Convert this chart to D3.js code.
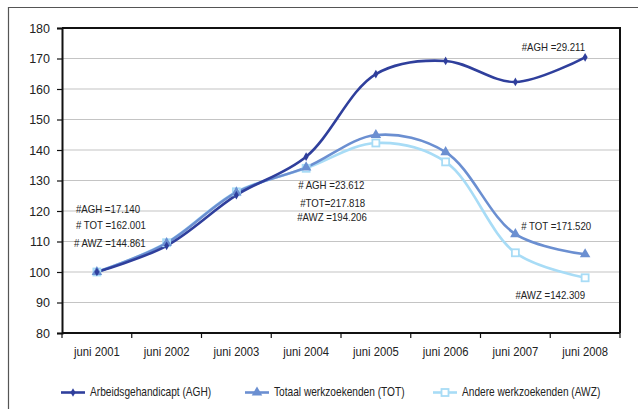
<!DOCTYPE html>
<html>
<head>
<meta charset="utf-8">
<script src="https://cdn.jsdelivr.net/npm/d3@7"></script>
<style>
body { margin: 0; background: #fff; }
svg { font-family: "Liberation Sans", Arial, sans-serif; }
</style>
</head>
<body>
<svg class="chart"></svg>
<script>
let width = 638,
  height = 409;

// data
let years = ["juni 2001", "juni 2002", "juni 2003", "juni 2004", "juni 2005", "juni 2006", "juni 2007", "juni 2008"];
let agh = [100, 108.6, 125.2, 137.8, 164.9, 169.2, 162.3, 170.4];
let tot = [100, 109.5, 126.1, 134.3, 144.9, 139.3, 112.4, 105.8];
let awz = [100, 109.6, 126.3, 134.0, 142.3, 136.1, 106.3, 98.1];
let yTicks = [80, 90, 100, 110, 120, 130, 140, 150, 160, 170, 180];
let seriesNames = ["Arbeidsgehandicapt (AGH)", "Totaal werkzoekenden (TOT)", "Andere werkzoekenden (AWZ)"];
let notes = [
  { text: "#AGH =29.211", year: "juni 2008", value: 170.4, dx: 0, dy: -6, anchor: "end" },
  { text: "#AGH =17.140", year: "juni 2001", value: 100, dx: -21, dy: -59, anchor: "start" },
  { text: "# TOT =162.001", year: "juni 2001", value: 100, dx: -21, dy: -43, anchor: "start" },
  { text: "# AWZ =144.861", year: "juni 2001", value: 100, dx: -23, dy: -25, anchor: "start" },
  { text: "# AGH =23.612", year: "juni 2004", value: 134.3, dx: -8, dy: 22, anchor: "start" },
  { text: "#TOT=217.818", year: "juni 2004", value: 134.3, dx: -6, dy: 40, anchor: "start" },
  { text: "#AWZ =194.206", year: "juni 2004", value: 134.3, dx: -9, dy: 54, anchor: "start" },
  { text: "# TOT =171.520", year: "juni 2008", value: 105.8, dx: -64, dy: -24, anchor: "start" },
  { text: "#AWZ =142.309", year: "juni 2008", value: 98.1, dx: 0, dy: 21, anchor: "end" }
];

let margin = { left: 62, top: 28, right: 18, bottom: 76 };
let svg = d3.select(".chart").attr("width", width).attr("height", height);

// no narrow font installed, so squeeze the text a bit
function condense(sel, k) {
  sel.each(function () {
    let w = this.getComputedTextLength();
    d3.select(this).attr("textLength", w * k).attr("lengthAdjust", "spacingAndGlyphs");
  });
}

// outer frame
svg.append("path")
  .attr("d", "M8.5," + height + "V7.5H" + width)
  .attr("fill", "none")
  .attr("stroke", "#555")
  .attr("stroke-width", 1.2);

let x = d3.scaleBand().domain(years).range([margin.left, width - margin.right]);
let y = d3.scaleLinear().domain([80, 180]).range([height - margin.bottom, margin.top]);
let cx = (d) => x(d) + x.bandwidth() / 2;

// grid
svg.append("g")
  .selectAll("line")
  .data(yTicks.slice(1, -1))
  .enter()
  .append("line")
  .attr("x1", margin.left)
  .attr("x2", width - margin.right)
  .attr("y1", (d) => y(d))
  .attr("y2", (d) => y(d))
  .attr("stroke", "#c4c4c4")
  .attr("stroke-width", 1.2);

// plot border (top & right)
svg.append("path")
  .attr("d", "M" + margin.left + "," + y(180) + "H" + (width - margin.right) + "V" + y(80))
  .attr("fill", "none")
  .attr("stroke", "#111")
  .attr("stroke-width", 2);

// y axis
let yAxis = svg.append("g")
  .attr("transform", "translate(" + margin.left + ",0)")
  .call(d3.axisLeft(y).tickValues(yTicks).tickSize(5).tickPadding(7));
yAxis.select(".domain").attr("stroke", "#111").attr("stroke-width", 2);
yAxis.selectAll(".tick line").attr("stroke", "#111").attr("stroke-width", 1.2);
yAxis.selectAll(".tick text")
  .attr("font-family", "Liberation Sans, sans-serif")
  .attr("font-size", 12.5)
  .attr("fill", "#222");

// x axis (ticks between categories)
let xAxis = svg.append("g")
  .attr("transform", "translate(0," + y(80) + ")");
xAxis.append("line")
  .attr("x1", margin.left)
  .attr("x2", width - margin.right)
  .attr("stroke", "#111")
  .attr("stroke-width", 2);
xAxis.selectAll(".tk")
  .data(years.concat(["end"]))
  .enter()
  .append("line")
  .attr("x1", (d, i) => margin.left + i * x.bandwidth())
  .attr("x2", (d, i) => margin.left + i * x.bandwidth())
  .attr("y2", 5)
  .attr("stroke", "#111")
  .attr("stroke-width", 1.2);
xAxis.selectAll("text")
  .data(years)
  .enter()
  .append("text")
  .attr("x", (d) => cx(d))
  .attr("y", 23)
  .attr("text-anchor", "middle")
  .attr("font-size", 12.5)
  .attr("fill", "#222")
  .text((d) => d)
  .call(condense, 0.9);

// annotations
svg.append("g")
  .selectAll("text")
  .data(notes)
  .enter()
  .append("text")
  .attr("x", (d) => cx(d.year) + d.dx)
  .attr("y", (d) => y(d.value) + d.dy)
  .attr("text-anchor", (d) => d.anchor)
  .attr("font-size", 11.5)
  .attr("fill", "#222")
  .text((d) => d.text)
  .call(condense, 0.84);

// series
let series = [
  { name: seriesNames[0], values: agh, color: "#2f3f9c", marker: "diamond" },
  { name: seriesNames[1], values: tot, color: "#6b8fd1", marker: "triangle" },
  { name: seriesNames[2], values: awz, color: "#a8dcf6", marker: "square" }
];

let line = d3.line()
  .x((d, i) => cx(years[i]))
  .y((d) => y(d))
  .curve(d3.curveCatmullRom.alpha(0.5));

function drawMarker(g, type, color, px, py) {
  if (type == "diamond") {
    g.append("path")
      .attr("d", d3.symbol(d3.symbolDiamond, 22)())
      .attr("transform", "translate(" + px + "," + py + ")")
      .attr("fill", color);
  } else if (type == "triangle") {
    g.append("path")
      .attr("d", d3.symbol(d3.symbolTriangle, 48)())
      .attr("transform", "translate(" + px + "," + py + ")")
      .attr("fill", color);
  } else {
    g.append("rect")
      .attr("x", px - 3.5)
      .attr("y", py - 3.5)
      .attr("width", 7)
      .attr("height", 7)
      .attr("fill", "#fff")
      .attr("stroke", color)
      .attr("stroke-width", 1.8);
  }
}

let plot = svg.append("g");
series.slice().reverse().forEach((s) => {
  plot.append("path")
    .attr("d", line(s.values))
    .attr("fill", "none")
    .attr("stroke", s.color)
    .attr("stroke-width", 2.6);
});
series.slice().reverse().forEach((s) => {
  s.values.forEach((v, i) => drawMarker(plot, s.marker, s.color, cx(years[i]), y(v)));
});

// legend
let legendX = [61, 245, 433];
let legend = svg.append("g");
series.forEach((s, i) => {
  let ly = 392.5;
  legend.append("line")
    .attr("x1", legendX[i])
    .attr("x2", legendX[i] + 24)
    .attr("y1", ly)
    .attr("y2", ly)
    .attr("stroke", s.color)
    .attr("stroke-width", 2.6);
  drawMarker(legend, s.marker, s.color, legendX[i] + 12, ly);
  legend.append("text")
    .attr("x", legendX[i] + 29)
    .attr("y", ly + 3.5)
    .attr("font-size", 13)
    .attr("fill", "#222")
    .text(s.name)
    .call(condense, 0.78);
});
</script>
</body>
</html>
